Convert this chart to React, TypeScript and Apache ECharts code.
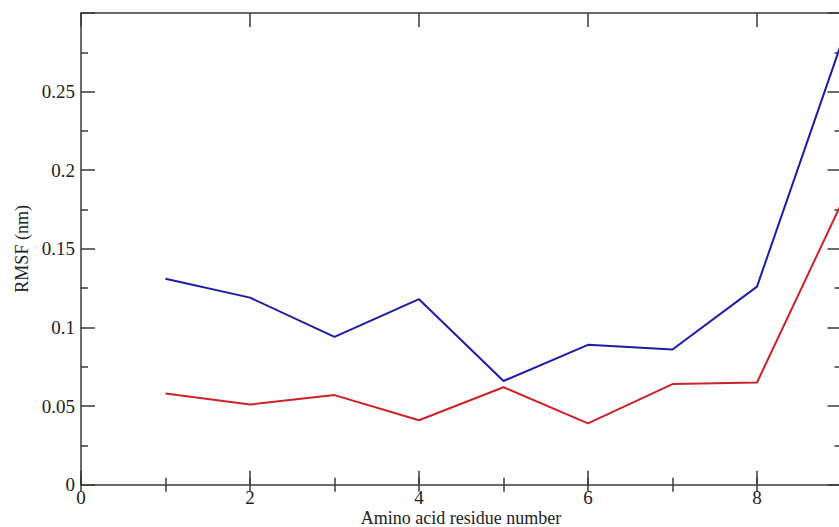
import React, { useEffect, useRef } from "react";
import * as echarts from "echarts";

const residues = [1, 2, 3, 4, 5, 6, 7, 8, 9];
const blueRmsf = [0.131, 0.119, 0.094, 0.118, 0.066, 0.089, 0.086, 0.126, 0.281];
const redRmsf = [0.058, 0.051, 0.057, 0.041, 0.062, 0.039, 0.064, 0.065, 0.179];
const xTitle = "Amino acid residue number";
const yTitle = "RMSF (nm)";

const FONT = "Liberation Serif, Times New Roman, serif";
const AXIS_COLOR = "#3a3a3a";

export default function App() {
  const ref = useRef<HTMLDivElement>(null);
  useEffect(() => {
    document.body.style.margin = "0";
    if (!ref.current) return;
    const chart = echarts.init(ref.current, null, { renderer: "svg" });
    const line = { lineStyle: { color: AXIS_COLOR, width: 1.5 } };
    const xBase = { type: "value", min: 0, max: 9, gridIndex: 0 } as any;
    const yBase = { type: "value", min: 0, max: 0.3, gridIndex: 0 } as any;
    chart.setOption({
      animation: false,
      backgroundColor: "#ffffff",
      grid: {
        left: 81,
        top: 13,
        width: 760.5,
        height: 471.75,
        containLabel: false,
        outerBoundsMode: "none",
      },
      graphic: [
        {
          type: "text",
          x: 461,
          y: 518,
          silent: true,
          style: {
            text: xTitle,
            fontFamily: FONT,
            fontSize: 18,
            fill: "#222",
            textAlign: "center",
            textVerticalAlign: "middle",
          },
        },
      ],
      xAxis: [
        {
          ...xBase,
          position: "bottom",
          interval: 2,
          axisLine: { show: true, onZero: false, ...line },
          axisTick: { show: true, inside: true, length: 14, ...line },
          axisLabel: {
            show: true,
            showMaxLabel: false,
            margin: 4,
            fontFamily: FONT,
            fontSize: 19,
            lineHeight: 17,
            color: "#222",
          },
          splitLine: { show: false },
        },
        {
          ...xBase,
          position: "bottom",
          interval: 1,
          axisLine: { show: false },
          axisTick: { show: true, inside: true, length: 7, ...line },
          axisLabel: { show: false },
          splitLine: { show: false },
        },
        {
          ...xBase,
          position: "top",
          interval: 2,
          axisLine: { show: true, onZero: false, ...line },
          axisTick: { show: true, inside: true, length: 14, ...line },
          axisLabel: { show: false },
          splitLine: { show: false },
        },
        {
          ...xBase,
          position: "top",
          interval: 1,
          axisLine: { show: false },
          axisTick: { show: true, inside: true, length: 7, ...line },
          axisLabel: { show: false },
          splitLine: { show: false },
        },
      ],
      yAxis: [
        {
          ...yBase,
          position: "left",
          interval: 0.05,
          axisLine: { show: true, onZero: false, ...line },
          axisTick: { show: true, inside: true, length: 14, ...line },
          minorTick: { show: true, splitNumber: 2, length: 7, ...line },
          axisLabel: {
            show: true,
            showMaxLabel: false,
            margin: 6,
            fontFamily: FONT,
            fontSize: 19,
            color: "#222",
          },
          splitLine: { show: false },
          minorSplitLine: { show: false },
          name: yTitle,
          nameLocation: "middle",
          nameGap: 50,
          nameTextStyle: { fontFamily: FONT, fontSize: 18, color: "#222" },
        },
        {
          ...yBase,
          position: "right",
          interval: 0.05,
          axisLine: { show: true, onZero: false, ...line },
          axisTick: { show: true, inside: true, length: 14, ...line },
          minorTick: { show: true, splitNumber: 2, length: 7, ...line },
          axisLabel: { show: false },
          splitLine: { show: false },
          minorSplitLine: { show: false },
        },
      ],
      series: [
        {
          name: "blue",
          type: "line",
          xAxisIndex: 0,
          yAxisIndex: 0,
          data: residues.map((r, i) => [r, blueRmsf[i]]),
          showSymbol: false,
          symbol: "none",
          lineStyle: { color: "#1c1ca8", width: 2 },
          itemStyle: { color: "#1c1ca8" },
        },
        {
          name: "red",
          type: "line",
          xAxisIndex: 0,
          yAxisIndex: 0,
          data: residues.map((r, i) => [r, redRmsf[i]]),
          showSymbol: false,
          symbol: "none",
          lineStyle: { color: "#cc2228", width: 2 },
          itemStyle: { color: "#cc2228" },
        },
      ],
    });
    return () => chart.dispose();
  }, []);
  return <div ref={ref} style={{ width: 839, height: 527 }} />;
}
